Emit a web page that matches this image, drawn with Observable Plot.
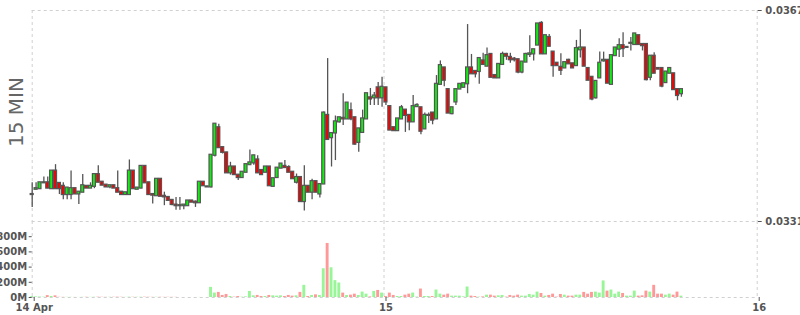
<!DOCTYPE html>
<html><head><meta charset="utf-8">
<script src="https://cdn.jsdelivr.net/npm/d3@7"></script>
<script src="https://cdn.jsdelivr.net/npm/@observablehq/plot@0.6"></script>
<style>
body{margin:0;background:#fff;}
#wrap{position:relative;width:800px;height:315px;overflow:hidden;font-family:"DejaVu Sans",sans-serif;background:#fff;}
#price,#vol{position:absolute;left:0;}
#price{top:0}
#vol{top:221px}
#lbl{position:absolute;left:16px;top:112px;transform:translate(-50%,-50%) rotate(-90deg);font-size:20px;color:#666;white-space:nowrap;font-family:"DejaVu Sans",sans-serif;}
</style></head><body>
<div id="wrap"><div id="price"></div><div id="vol"></div><div id="lbl"></div></div>
<script>
// 15-minute candles, 14 Apr 01:15 onwards (plotted at mid-interval)
const opens = [
0.03356,0.03365,0.03366,0.03376,0.03376,0.03366,0.03396,0.03375,0.03370,0.03356,
0.03356,0.03366,0.03357,0.03360,0.03370,0.03367,0.03370,0.03390,0.03377,0.03372,
0.03369,0.03371,0.03366,0.03360,0.03356,0.03356,0.03396,0.03365,0.03367,0.03404,
0.03376,0.03356,0.03354,0.03382,0.03353,0.03351,0.03346,0.03338,0.03337,0.03337,
0.03337,0.03345,0.03343,0.03342,0.03377,0.03369,0.03369,0.03423,0.03470,0.03436,
0.03427,0.03393,0.03403,0.03389,0.03385,0.03394,0.03407,0.03410,0.03415,0.03397,
0.03394,0.03403,0.03370,0.03385,0.03401,0.03404,0.03402,0.03394,0.03377,0.03385,
0.03344,0.03370,0.03360,0.03378,0.03357,0.03374,0.03491,0.03453,0.03461,0.03480,
0.03486,0.03485,0.03499,0.03487,0.03445,0.03462,0.03485,0.03521,0.03521,0.03538,
0.03521,0.03538,0.03506,0.03470,0.03465,0.03485,0.03500,0.03491,0.03480,0.03506,
0.03504,0.03468,0.03491,0.03495,0.03485,0.03544,0.03572,0.03535,0.03494,0.03514,
0.03536,0.03539,0.03545,0.03572,0.03566,0.03566,0.03584,0.03575,0.03595,0.03559,
0.03555,0.03578,0.03595,0.03590,0.03587,0.03586,0.03565,0.03582,0.03595,0.03596,
0.03611,0.03648,0.03596,0.03624,0.03599,0.03580,0.03573,0.03572,0.03585,0.03579,
0.03576,0.03603,0.03606,0.03571,0.03556,0.03521,0.03555,0.03584,0.03585,0.03544,
0.03593,0.03604,0.03610,0.03607,0.03614,0.03612,0.03627,0.03612,0.03612,0.03556,
0.03592,0.03571,0.03571,0.03547,0.03563,0.03562,0.03535,0.03528];
const highs = [
0.03376,0.03376,0.03376,0.03386,0.03386,0.03396,0.03407,0.03375,0.03376,0.03367,
0.03396,0.03366,0.03360,0.03390,0.03370,0.03376,0.03390,0.03405,0.03377,0.03372,
0.03371,0.03371,0.03396,0.03360,0.03359,0.03415,0.03396,0.03367,0.03404,0.03404,
0.03376,0.03356,0.03382,0.03382,0.03360,0.03351,0.03346,0.03351,0.03351,0.03338,
0.03345,0.03345,0.03345,0.03377,0.03377,0.03370,0.03423,0.03476,0.03476,0.03436,
0.03428,0.03411,0.03403,0.03389,0.03394,0.03407,0.03432,0.03423,0.03422,0.03397,
0.03403,0.03403,0.03383,0.03401,0.03408,0.03414,0.03405,0.03394,0.03391,0.03385,
0.03405,0.03370,0.03382,0.03378,0.03373,0.03497,0.03588,0.03460,0.03490,0.03487,
0.03528,0.03512,0.03512,0.03487,0.03468,0.03500,0.03528,0.03537,0.03530,0.03547,
0.03556,0.03538,0.03506,0.03470,0.03485,0.03508,0.03500,0.03491,0.03525,0.03511,
0.03504,0.03495,0.03495,0.03496,0.03559,0.03584,0.03572,0.03535,0.03504,0.03535,
0.03544,0.03546,0.03646,0.03595,0.03566,0.03588,0.03597,0.03606,0.03595,0.03559,
0.03578,0.03599,0.03597,0.03597,0.03590,0.03586,0.03582,0.03597,0.03627,0.03603,
0.03647,0.03651,0.03627,0.03629,0.03599,0.03580,0.03596,0.03581,0.03587,0.03579,
0.03619,0.03637,0.03606,0.03571,0.03556,0.03549,0.03599,0.03599,0.03585,0.03593,
0.03606,0.03622,0.03632,0.03607,0.03624,0.03630,0.03627,0.03612,0.03612,0.03592,
0.03598,0.03571,0.03571,0.03565,0.03571,0.03562,0.03535,0.03535];
const lows = [
0.03334,0.03365,0.03366,0.03376,0.03366,0.03366,0.03366,0.03356,0.03347,0.03347,
0.03347,0.03357,0.03339,0.03360,0.03367,0.03367,0.03366,0.03377,0.03372,0.03369,
0.03366,0.03367,0.03360,0.03356,0.03356,0.03356,0.03366,0.03365,0.03366,0.03376,
0.03356,0.03340,0.03354,0.03353,0.03337,0.03346,0.03337,0.03329,0.03329,0.03330,
0.03337,0.03343,0.03334,0.03342,0.03371,0.03368,0.03367,0.03420,0.03436,0.03425,
0.03393,0.03389,0.03390,0.03380,0.03385,0.03394,0.03407,0.03406,0.03393,0.03389,
0.03394,0.03371,0.03369,0.03385,0.03401,0.03401,0.03394,0.03383,0.03374,0.03344,
0.03328,0.03360,0.03347,0.03360,0.03350,0.03374,0.03450,0.03403,0.03414,0.03478,
0.03474,0.03485,0.03482,0.03440,0.03428,0.03462,0.03485,0.03508,0.03508,0.03508,
0.03505,0.03508,0.03466,0.03465,0.03465,0.03485,0.03462,0.03465,0.03480,0.03506,
0.03458,0.03468,0.03477,0.03475,0.03485,0.03544,0.03540,0.03495,0.03492,0.03508,
0.03536,0.03539,0.03528,0.03562,0.03555,0.03544,0.03578,0.03575,0.03556,0.03555,
0.03555,0.03578,0.03585,0.03580,0.03582,0.03562,0.03562,0.03582,0.03590,0.03584,
0.03611,0.03596,0.03596,0.03609,0.03556,0.03576,0.03559,0.03572,0.03579,0.03572,
0.03576,0.03589,0.03575,0.03551,0.03516,0.03519,0.03555,0.03582,0.03546,0.03544,
0.03593,0.03590,0.03590,0.03607,0.03601,0.03612,0.03612,0.03601,0.03550,0.03550,
0.03563,0.03570,0.03538,0.03547,0.03563,0.03535,0.03516,0.03522];
const closes = [
0.03356,0.03366,0.03376,0.03376,0.03367,0.03396,0.03366,0.03366,0.03356,0.03367,
0.03366,0.03357,0.03360,0.03371,0.03367,0.03370,0.03390,0.03377,0.03372,0.03369,
0.03371,0.03367,0.03360,0.03356,0.03359,0.03396,0.03366,0.03367,0.03404,0.03376,
0.03356,0.03355,0.03382,0.03353,0.03352,0.03346,0.03339,0.03337,0.03337,0.03338,
0.03345,0.03343,0.03342,0.03377,0.03371,0.03369,0.03423,0.03476,0.03436,0.03428,
0.03393,0.03403,0.03390,0.03385,0.03394,0.03407,0.03410,0.03422,0.03393,0.03390,
0.03403,0.03371,0.03383,0.03401,0.03408,0.03402,0.03394,0.03383,0.03385,0.03344,
0.03370,0.03360,0.03378,0.03360,0.03373,0.03495,0.03450,0.03460,0.03480,0.03487,
0.03485,0.03512,0.03485,0.03442,0.03468,0.03485,0.03528,0.03519,0.03524,0.03521,
0.03539,0.03514,0.03466,0.03465,0.03485,0.03504,0.03491,0.03480,0.03506,0.03508,
0.03464,0.03491,0.03491,0.03483,0.03544,0.03576,0.03551,0.03495,0.03504,0.03535,
0.03544,0.03545,0.03572,0.03562,0.03562,0.03588,0.03578,0.03593,0.03556,0.03555,
0.03578,0.03595,0.03592,0.03586,0.03586,0.03565,0.03582,0.03595,0.03596,0.03603,
0.03647,0.03596,0.03627,0.03609,0.03576,0.03576,0.03568,0.03581,0.03579,0.03572,
0.03605,0.03606,0.03575,0.03551,0.03519,0.03549,0.03580,0.03585,0.03546,0.03593,
0.03606,0.03610,0.03605,0.03607,0.03614,0.03630,0.03612,0.03610,0.03552,0.03592,
0.03563,0.03570,0.03541,0.03565,0.03571,0.03535,0.03525,0.03535];
// volume in millions
const volumes = [
12,8,6,4,25,14,22,3,2,2,
2,1,1,2,3,2,3,4,3,2,
3,3,4,3,2,4,3,3,3,4,
3,2,3,3,2,3,2,2,0,0,
0,0,0,1,0,0,133,58,67,27,
40,13,5,13,4,8,80,22,27,13,
13,27,22,18,22,13,27,18,22,67,
160,13,27,35,27,378,711,391,222,191,
58,27,31,44,27,71,44,8,80,93,
58,13,58,27,13,13,31,44,58,5,
111,13,13,13,98,44,31,44,18,18,
18,8,138,18,13,5,8,31,31,18,
22,27,5,27,18,31,18,18,40,31,
71,53,18,27,44,5,40,31,18,18,
31,31,67,44,67,71,58,218,84,98,
44,71,53,18,18,84,18,22,84,71,
160,44,44,31,44,31,71,18];
const priceTicks = [0.0331, 0.0367];
const volumeTicks = [0, 200, 400, 600, 800];
const xTickLabels = ["14 Apr", "15", "16"];
const axisLabel = "15 MIN";

const t0 = Date.UTC(2024, 3, 14, 1, 22, 30);
const step = 15 * 60 * 1000;
const xTicks = [new Date(t0), new Date(Date.UTC(2024, 3, 15)), new Date(Date.UTC(2024, 3, 16))];
const labelMap = new Map(xTicks.map((d, i) => [+d, xTickLabels[i]]));
const xDomain = [xTicks[0], xTicks[2]];
const rows = opens.map((o, i) => ({t: new Date(t0 + i * step), o, h: highs[i], l: lows[i], c: closes[i], v: volumes[i]}));
const half = 5.8 * 60 * 1000, halfV = 5.6 * 60 * 1000;
const UP = "#0ef00e", DOWN = "#f40000", VUP = "#98f598", VDOWN = "#ff9999";
const grid = {stroke: "#d0d0d0", strokeDasharray: "3,3", strokeWidth: 1};
const ML = 31.7, MR = 43.3;
const style = {fontFamily: "DejaVu Sans, sans-serif", fontSize: "10px", fontWeight: "bold", color: "#555", background: "none", overflow: "visible"};

const price = Plot.plot({
  width: 800, height: 224, marginLeft: ML, marginRight: MR, marginTop: 10, marginBottom: 3,
  style,
  x: {type: "utc", domain: xDomain, axis: null},
  y: {domain: [priceTicks[0], priceTicks[1]], axis: null},
  marks: [
    Plot.ruleY(priceTicks, grid),
    Plot.ruleX(xTicks, grid),
    Plot.axisY({anchor: "right", ticks: priceTicks, tickFormat: d3.format(".4f"), tickSize: 4, tickPadding: 4, stroke: "#555", label: null}),
    Plot.ruleX(rows, {x: "t", y1: "l", y2: "h", stroke: "#555", strokeWidth: 1.3}),
    Plot.rect(rows, {x1: d => new Date(+d.t - half), x2: d => new Date(+d.t + half), y1: "o", y2: "c",
      fill: d => d.c >= d.o ? UP : DOWN, stroke: "#555", strokeWidth: 1.2, insetTop: -0.5, insetBottom: -0.5})
  ]
});
document.getElementById("price").appendChild(price);

const vol = Plot.plot({
  width: 800, height: 94, marginLeft: ML, marginRight: MR, marginTop: 0, marginBottom: 18,
  style,
  x: {type: "utc", domain: xDomain, axis: null},
  y: {domain: [0, 1000], axis: null},
  marks: [
    Plot.ruleX(xTicks, grid),
    Plot.ruleY([0], grid),
    Plot.rectY(rows, {x1: d => new Date(+d.t - halfV), x2: d => new Date(+d.t + halfV), y: "v",
      fill: d => d.c >= d.o ? VUP : VDOWN}),
    Plot.axisY({anchor: "left", ticks: volumeTicks, tickFormat: d => d + "M", tickSize: 3, tickPadding: 2, label: null}),
    Plot.axisX({anchor: "bottom", ticks: xTicks, tickFormat: d => labelMap.get(+d), tickSize: 4, tickPadding: 2, dx: 2, label: null})
  ]
});
document.getElementById("vol").appendChild(vol);
document.getElementById("lbl").textContent = axisLabel;
</script>
</body></html>
